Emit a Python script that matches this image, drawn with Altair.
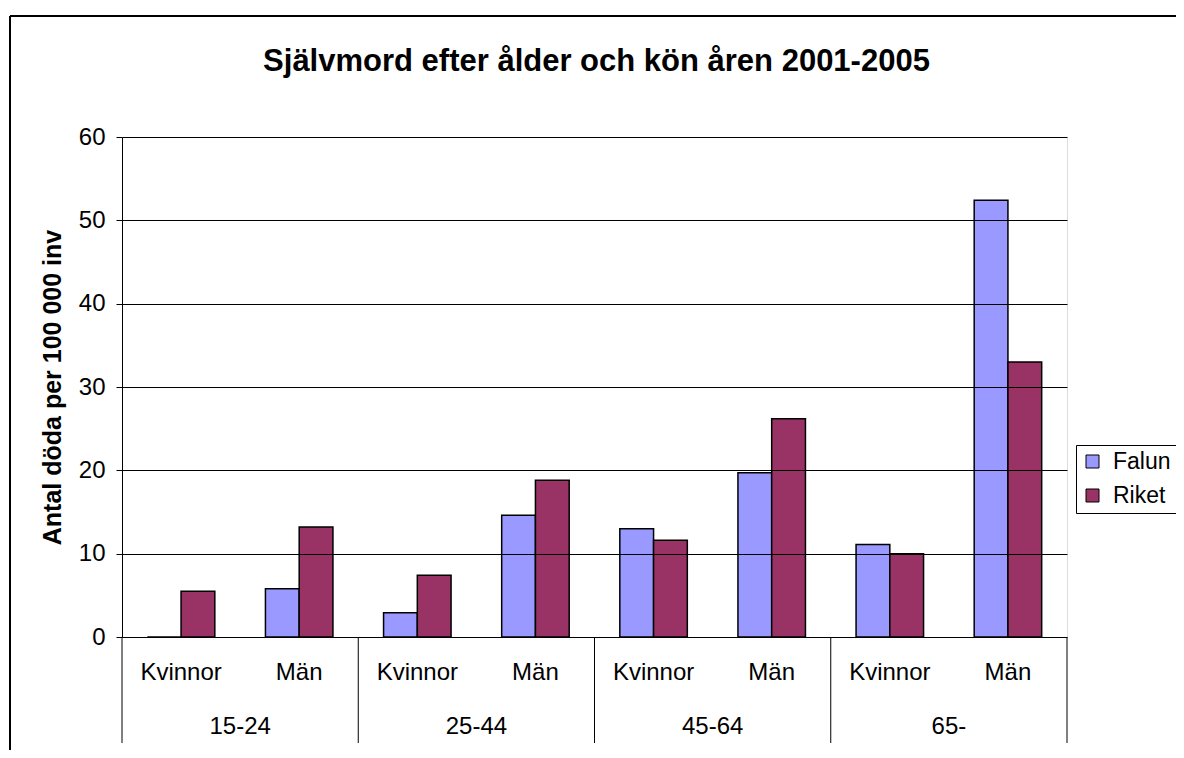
import altair as alt
import pandas as pd

# ---- data ----
age_groups = ["15-24", "25-44", "45-64", "65-"]
sexes = ["Kvinnor", "Män"]
series = ["Falun", "Riket"]
falun = [0.0, 5.8, 2.9, 14.6, 13.0, 19.7, 11.1, 52.4]
riket = [5.5, 13.2, 7.4, 18.8, 11.6, 26.2, 10.0, 33.0]
y_ticks = [0, 10, 20, 30, 40, 50, 60]
colors = ["#9999FF", "#993366"]
title_text = "Självmord efter ålder och kön åren 2001-2005"
y_title = "Antal döda per 100 000 inv"

FONT = "Liberation Sans"
FS = 24
W, H = 945, 500

cats = [f"{a}|{s}" for a in age_groups for s in sexes]
rows = []
for i, c in enumerate(cats):
    rows.append({"cat": c, "serie": "Falun", "value": falun[i]})
    rows.append({"cat": c, "serie": "Riket", "value": riket[i]})
df = pd.DataFrame(rows)

sub_df = pd.DataFrame({"cat": cats, "sex": [s for a in age_groups for s in sexes]})
grp_start = pd.DataFrame({"cat": [f"{a}|Kvinnor" for a in age_groups]})
grp_end = pd.DataFrame({"cat": [cats[-1]]})
grp_mid = pd.DataFrame({"cat": [f"{a}|Män" for a in age_groups], "age": age_groups})
one = pd.DataFrame({"t": [title_text]})

xscale = alt.Scale(domain=cats, paddingInner=0, paddingOuter=0)

bars = alt.Chart(df).mark_bar(stroke="black", strokeWidth=1.5).encode(
    x=alt.X(
        "cat:N", scale=xscale, sort=cats,
        axis=alt.Axis(
            title=None, labels=False,
            tickBand="extent", tickSize=54, tickColor="black", tickWidth=1,
            domainColor="black", domainWidth=1, grid=False, zindex=1,
        ),
    ),
    xOffset=alt.XOffset("serie:N", scale=alt.Scale(domain=series, paddingInner=0, paddingOuter=0.75)),
    y=alt.Y(
        "value:Q", scale=alt.Scale(domain=[0, 60], nice=False),
        axis=alt.Axis(
            values=y_ticks, title=y_title, titleFontSize=25,
            titleFont=FONT, titleFontWeight="bold", titleColor="black", titlePadding=13,
            labelFontSize=FS, labelFont=FONT, labelColor="black", labelPadding=11,
            tickSize=6, tickColor="black", domainColor="black", domainWidth=1,
            grid=True, gridColor="black", gridWidth=1, zindex=1,
        ),
    ),
    color=alt.Color(
        "serie:N", scale=alt.Scale(domain=series, range=colors),
        legend=alt.Legend(
            title=None, orient="none", legendX=954, legendY=308,
            strokeColor="black", fillColor="white", padding=5,
            labelFontSize=23, labelFont=FONT, labelColor="black",
            symbolType="square", symbolSize=169, symbolStrokeColor="black",
            symbolStrokeWidth=1, rowPadding=10, labelOffset=9,
        ),
    ),
)

sub_text = alt.Chart(sub_df).mark_text(
    font=FONT, fontSize=FS, color="black", baseline="middle", align="center"
).encode(
    x=alt.X("cat:N", scale=xscale, sort=cats, axis=None),
    y=alt.value(H + 36),
    text="sex:N",
)
rule_start = alt.Chart(grp_start).mark_rule(color="black", strokeWidth=1).encode(
    x=alt.X("cat:N", scale=xscale, sort=cats, bandPosition=0, axis=None),
    y=alt.value(H), y2=alt.value(H + 106),
)
rule_end = alt.Chart(grp_end).mark_rule(color="black", strokeWidth=1).encode(
    x=alt.X("cat:N", scale=xscale, sort=cats, bandPosition=1, axis=None),
    y=alt.value(H), y2=alt.value(H + 106),
)
grp_text = alt.Chart(grp_mid).mark_text(
    font=FONT, fontSize=FS, color="black", baseline="middle", align="center"
).encode(
    x=alt.X("cat:N", scale=xscale, sort=cats, bandPosition=0, axis=None),
    y=alt.value(H + 90),
    text="age:N",
)

title_mark = alt.Chart(one).mark_text(
    font=FONT, fontSize=31, fontWeight="bold", color="black",
    baseline="middle", align="center"
).encode(x=alt.value(W / 2 + 2), y=alt.value(-75), text="t:N")

frame_left = alt.Chart(one).mark_rule(color="black", strokeWidth=2).encode(
    x=alt.value(-112), y=alt.value(-121), y2=alt.value(H + 200)
)
frame_top = alt.Chart(one).mark_rule(color="black", strokeWidth=2).encode(
    x=alt.value(-112), x2=alt.value(W + 200), y=alt.value(-121)
)

chart = alt.layer(
    frame_left, frame_top, title_mark, bars, sub_text, rule_start, rule_end, grp_text
).properties(
    width=W, height=H,
    autosize=alt.AutoSizeParams(type="none"),
    padding={"left": 114, "top": 129, "right": 109, "bottom": 113},
).configure_view(stroke="#808080", strokeWidth=2).configure(background="white")

chart.save("out.html", embed_options={"renderer": "svg", "actions": False})
